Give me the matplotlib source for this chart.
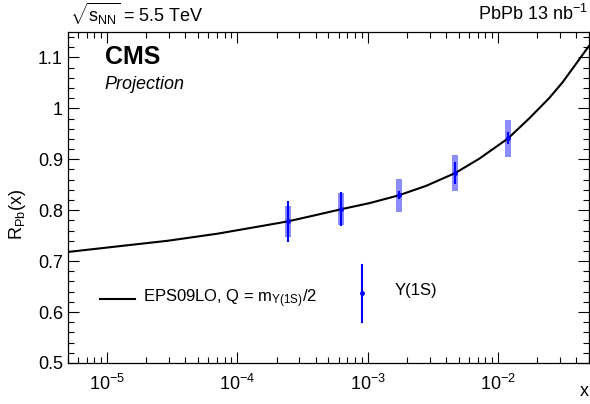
import matplotlib
matplotlib.use('Agg')
import matplotlib.pyplot as plt
from matplotlib.ticker import LogLocator, MultipleLocator, LogFormatterMathtext, NullFormatter
import numpy as np

plt.rcParams['font.family'] = ['Liberation Sans', 'DejaVu Sans']
plt.rcParams['mathtext.fontset'] = 'custom'
plt.rcParams['mathtext.rm'] = 'Liberation Sans'
plt.rcParams['mathtext.it'] = 'Liberation Sans:italic'
plt.rcParams['mathtext.bf'] = 'Liberation Sans:bold'

# EPS09LO curve
curve_x = [5e-6, 1.21e-5, 2.93e-5, 7.1e-5, 1.71e-4, 2.44e-4, 3.79e-4, 6.3e-4,
           1.04e-3, 1.73e-3, 2.83e-3, 4.72e-3, 7.2e-3, 1.2e-2, 1.74e-2,
           2.48e-2, 3.12e-2, 3.85e-2, 5e-2]
curve_y = [0.718, 0.729, 0.740, 0.754, 0.771, 0.778, 0.789, 0.802,
           0.814, 0.829, 0.848, 0.873, 0.901, 0.941, 0.980,
           1.020, 1.050, 1.082, 1.122]

# Upsilon(1S) projected points
pts_x = [2.44e-4, 6.3e-4, 1.73e-3, 4.72e-3, 1.2e-2]
pts_y = [0.778, 0.802, 0.829, 0.873, 0.941]
stat = [0.041, 0.034, 0.008, 0.022, 0.012]
syst = [0.031, 0.032, 0.033, 0.035, 0.037]

fig = plt.figure(figsize=(5.9, 4.04), dpi=100)
ax = fig.add_axes([0.115, 0.1015, 0.883, 0.8195])

ax.set_xscale('log')
ax.set_xlim(5e-6, 5e-2)
ax.set_ylim(0.5, 1.15)

# systematic boxes
hw = 0.023
left = [x * 10**-hw for x in pts_x]
widths = [x * (10**hw - 10**-hw) for x in pts_x]
bottoms = [y - s for y, s in zip(pts_y, syst)]
heights = [2 * s for s in syst]
ax.bar(left, heights, width=widths, bottom=bottoms, align='edge',
       color='#0000ff', alpha=0.45, linewidth=0, zorder=2)

ax.plot(curve_x, curve_y, color='black', lw=1.5, zorder=3)

ax.errorbar(pts_x, pts_y, yerr=stat, fmt='o', color='#0000ff', ms=2.5,
            elinewidth=1.5, capsize=0, zorder=4)

# legend drawn by hand
ax.plot([0.061, 0.129], [0.193, 0.193], color='black', lw=1.5, transform=ax.transAxes)
ax.text(0.144, 0.193, r'EPS09LO, Q = m$_{\mathrm{\Upsilon(1S)}}$/2', fontsize=12,
        va='center', ha='left', transform=ax.transAxes)
ax.plot([0.564, 0.564], [0.124, 0.296], color='#0000ff', lw=1.5, transform=ax.transAxes)
ax.plot([0.564], [0.211], 'o', color='#0000ff', ms=2.5, transform=ax.transAxes)
ax.text(0.628, 0.22, '\u03a5(1S)', fontsize=12, va='center', ha='left',
        transform=ax.transAxes)

# ticks
ax.xaxis.set_major_locator(LogLocator(base=10, numticks=20))
ax.xaxis.set_minor_locator(LogLocator(base=10, subs=np.arange(2, 10), numticks=20))
ax.xaxis.set_major_formatter(LogFormatterMathtext())
ax.xaxis.set_minor_formatter(NullFormatter())
ax.yaxis.set_major_locator(MultipleLocator(0.1))
ax.yaxis.set_minor_locator(MultipleLocator(0.02))
ax.yaxis.set_major_formatter(plt.FuncFormatter(lambda v, p: '%g' % round(v, 2)))
ax.tick_params(which='both', direction='in', top=True, right=True, labelsize=13)
ax.tick_params(which='major', length=8, width=0.8)
ax.tick_params(which='minor', length=4, width=0.8)
ax.tick_params(axis='x', pad=8)
for s in ax.spines.values():
    s.set_linewidth(0.9)

ax.set_ylabel(r'R$_{\mathrm{Pb}}$(x)', fontsize=13)
ax.yaxis.set_label_coords(-0.077, 0.45)
ax.set_xlabel('x', fontsize=13)
ax.xaxis.set_label_coords(1.0, -0.06)
ax.xaxis.label.set_ha('right')

fig.text(0.118, 0.965, r'$\sqrt{\mathrm{s}_{\mathrm{NN}}}$ = 5.5 TeV', fontsize=13, va='center', ha='left')
fig.text(0.997, 0.965, r'PbPb 13 nb$^{\mathrm{-1}}$', fontsize=13, va='center', ha='right')
ax.text(0.0705, 0.924, 'CMS', fontsize=18, fontweight='bold', transform=ax.transAxes,
        va='center', ha='left')
ax.text(0.0705, 0.84, 'Projection', fontsize=13, style='italic', transform=ax.transAxes,
        va='center', ha='left')

plt.savefig('out.png', dpi=100)
